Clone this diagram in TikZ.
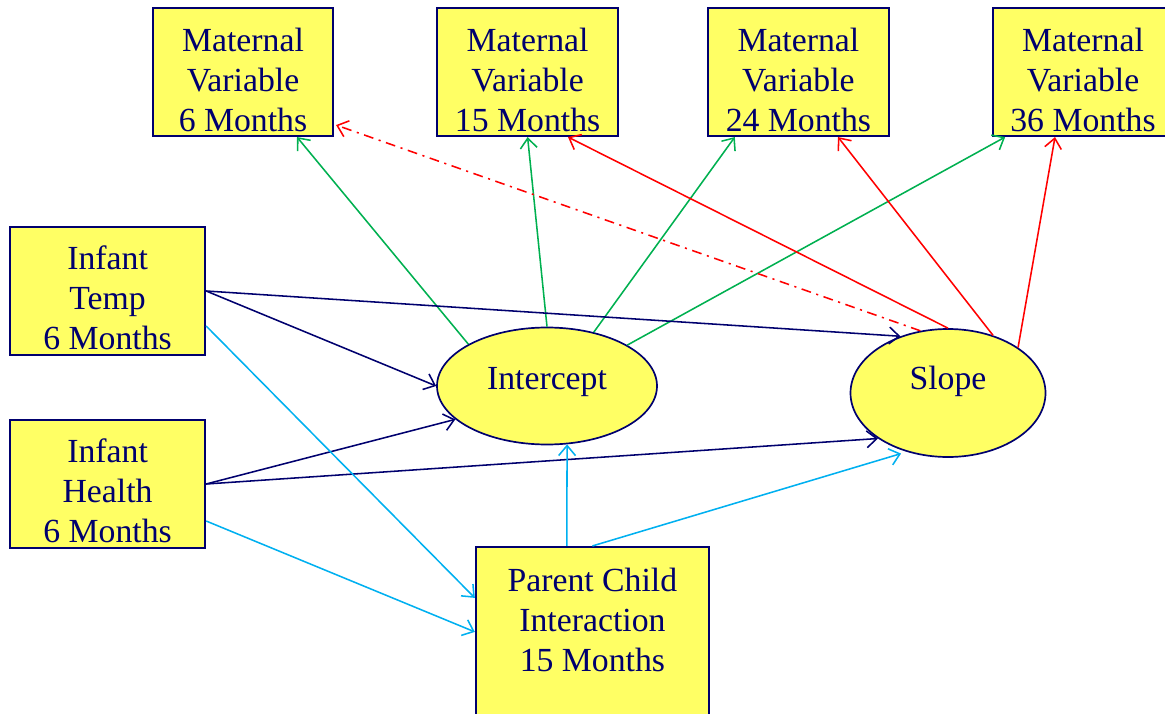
\documentclass[tikz,border=0pt]{standalone}
\usepackage{fontspec}
\setmainfont{Liberation Serif}
\usepackage{xcolor}
\usepackage{tikz}
\usetikzlibrary{arrows.meta, positioning, calc, shapes.geometric}

\definecolor{navy}{RGB}{0,0,110}
\definecolor{boxyellow}{RGB}{255,255,100}
\definecolor{pathgreen}{RGB}{0,176,80}
\definecolor{pathred}{RGB}{255,0,0}
\definecolor{pathcyan}{RGB}{0,176,240}

\begin{document}
\begin{tikzpicture}[every node/.style={font=\fontsize{24}{28.5}\selectfont, text=navy},
    obs/.style={draw=navy, line width=1.5pt, fill=boxyellow, align=center, inner sep=0pt, minimum height=3.2cm},
    lat/.style={draw=navy, line width=1.2pt, fill=boxyellow, ellipse, inner sep=0pt},
    path/.style={line width=1.1pt, -{Straight Barb[length=2.5mm,width=4.2mm]}},
    grn/.style={path, draw=pathgreen},
    rd/.style={path, draw=pathred},
    nv/.style={path, draw=navy},
    cy/.style={path, draw=pathcyan}]
    \clip (0,0) rectangle (29.125,17.825);
    % maternal outcomes
    \node[obs,minimum width=4.5cm] (M6) at (6.075,16.025) {\rule{0pt}{1cm}Maternal\\Variable\\6 Months};
    \node[obs,minimum width=4.525cm] (M15) at (13.19,16.025) {\rule{0pt}{1cm}Maternal\\Variable\\15 Months};
    \node[obs,minimum width=4.525cm] (M24) at (19.96,16.025) {\rule{0pt}{1cm}Maternal\\Variable\\24 Months};
    \node[obs,minimum width=4.5cm] (M36) at (27.075,16.025) {\rule{0pt}{1cm}Maternal\\Variable\\36 Months};
    % predictors
    \node[obs,minimum width=4.875cm] (T6) at (2.69,10.55) {\rule{0pt}{0.95cm}Infant\\Temp\\6 Months};
    \node[obs,minimum width=4.875cm] (H6) at (2.69,5.725) {\rule{0pt}{0.95cm}Infant\\Health\\6 Months};
    \node[obs,minimum width=5.825cm,minimum height=4.625cm] (PC) at (14.81,1.8375) {Parent Child\\Interaction\\15 Months\\~};
    % growth factors
    \node[lat,minimum width=5.5cm,minimum height=2.925cm,text depth=0.4cm] (Icpt) at (13.675,8.175) {Intercept};
    \node[lat,minimum width=4.875cm,minimum height=3.2cm,text depth=0.75cm] (Slope) at (23.7,8.0) {Slope};

    \draw[grn] (Icpt.152) -- ($(M6.south)+(1.35,0)$);
    \draw[grn] (Icpt.north) -- (M15.south);
    \draw[grn] (Icpt.49) -- ($(M24.south)+(-1.59,0)$);
    \draw[grn] (Icpt.27) -- ($(M36.south west)+(0.33,0)$);
    \draw[rd] (Slope.north) -- ($(M15.south)+(1.01,0)$);
    \draw[rd] (Slope.52) -- ($(M24.south)+(0.99,0)$);
    \draw[rd] (Slope.33) -- ($(M36.south)+(-0.7,0)$);
    \draw[rd,dash pattern=on 7pt off 4pt on 1.5pt off 4pt] (Slope.114) -- ($(M6.south east)+(0.05,0.3)$);

    \draw[nv] (T6.east) -- (Icpt.west);
    \draw[nv] (T6.east) -- (Slope.130);
    \draw[nv] (H6.east) -- (Icpt.200);
    \draw[nv] (H6.east) -- (Slope.213);

    \draw[cy] ($(T6.east)+(0,-0.875)$) -- ($(PC.west)+(0,1.04)$);
    \draw[cy] ($(H6.east)+(0,-0.925)$) -- ($(PC.west)+(0,0.19)$);
    \draw[cy] ($(PC.north)+(-0.64,0)$) -- (Icpt.289);
    \draw[cy,shorten >=0.15cm] (PC.north) -- (Slope.235);
\end{tikzpicture}
\end{document}
